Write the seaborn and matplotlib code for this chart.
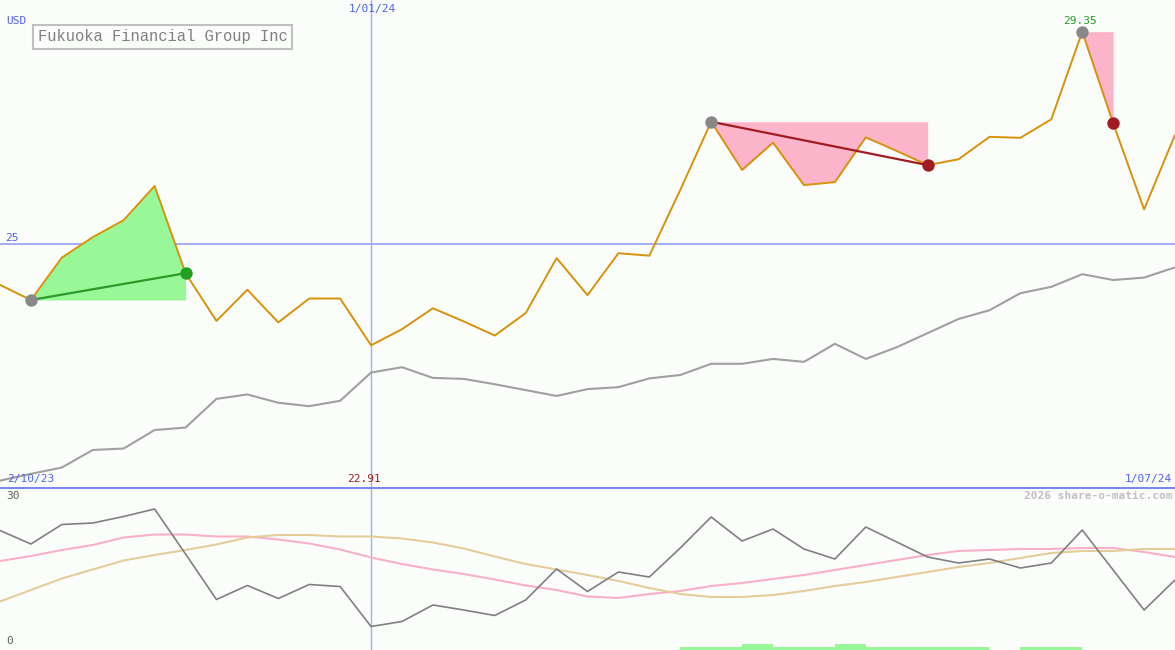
import numpy as np
import pandas as pd
import matplotlib
matplotlib.use("Agg")
import matplotlib.pyplot as plt
import seaborn as sns

# weekly closes, Fukuoka Financial Group (USD)
weeks = list(range(39))
price = [24.15, 23.84, 24.71, 25.13, 25.48, 26.18, 24.39, 23.41, 24.05, 23.38,
         23.87, 23.87, 22.91, 23.24, 23.67, 23.40, 23.11, 23.57, 24.70, 23.94,
         24.80, 24.75, 26.10, 27.50, 26.51, 27.07, 26.20, 26.26, 27.18, 26.90,
         26.61, 26.73, 27.19, 27.17, 27.55, 29.35, 27.47, 25.70, 27.23]
avg_line = [20.13, 20.27, 20.40, 20.76, 20.79, 21.17, 21.22, 21.81, 21.90, 21.73,
            21.66, 21.77, 22.35, 22.46, 22.24, 22.22, 22.11, 21.99, 21.87, 22.01,
            22.05, 22.23, 22.30, 22.53, 22.53, 22.63, 22.57, 22.94, 22.63, 22.87,
            23.16, 23.45, 23.63, 23.98, 24.11, 24.37, 24.25, 24.30, 24.51]

# lower panel indicator lines
osc = [22.9, 20.2, 24.1, 24.4, 25.7, 27.2, 18.2, 9.1, 11.9, 9.3,
       12.1, 11.7, 3.7, 4.7, 8.0, 7.0, 5.9, 9.0, 15.2, 10.7,
       14.6, 13.6, 19.4, 25.6, 20.8, 23.2, 19.2, 17.2, 23.6, 20.6,
       17.6, 16.4, 17.2, 15.4, 16.4, 23.0, 15.0, 7.0, 13.0]
avg_fast = [16.8, 17.8, 19.0, 20.0, 21.5, 22.1, 22.1, 21.7, 21.7, 21.1,
            20.3, 19.1, 17.5, 16.2, 15.1, 14.2, 13.1, 11.9, 11.0, 9.7,
            9.4, 10.2, 10.8, 11.8, 12.4, 13.2, 14.0, 15.0, 16.0, 17.0,
            18.0, 18.8, 19.0, 19.2, 19.2, 19.4, 19.4, 18.6, 17.6]
avg_slow = [8.7, 11.0, 13.3, 15.1, 16.9, 18.0, 19.0, 20.1, 21.5, 22.0,
            22.0, 21.7, 21.7, 21.3, 20.5, 19.3, 17.7, 16.2, 15.1, 14.0,
            12.8, 11.4, 10.2, 9.6, 9.6, 10.0, 10.8, 11.8, 12.6, 13.6,
            14.6, 15.6, 16.4, 17.4, 18.4, 18.8, 18.8, 19.2, 19.2]
# buy signal strength per week (0 = none)
signal = [0] * 22 + [1, 1, 2, 1, 1, 2, 1, 1, 1, 1, 0, 1, 1, 0, 0, 0, 0]

bg = "#fbfdfb"
sns.set_style("white", {"axes.facecolor": bg, "figure.facecolor": bg})
plt.rcParams["font.family"] = ["DejaVu Sans Mono"]

fig = plt.figure(figsize=(11.75, 6.5), dpi=100)
ax = fig.add_axes([0, 163 / 650, 1, 487 / 650])
ax2 = fig.add_axes([0, 0, 1, 163 / 650])
for a in (ax, ax2):
    a.set_xlim(0, 38)
    a.set_axis_off()
ax.set_ylim(20, 30)
ax2.set_ylim(-1, 31.6)

# grid lines
ax.axhline(25, color="#a4acf4", lw=1.4, zorder=1)
ax.axvline(12, color="#a4acf4", lw=1, zorder=1)
ax2.axvline(12, color="#a4acf4", lw=1, zorder=1)
ax2.axhline(31.6, color="#7888ec", lw=2.2, zorder=1)

# signal fills
ax.fill_between(weeks[1:7], price[1:7], price[1], color="#98f898", lw=0, zorder=2)
ax.fill_between(weeks[23:31], price[23:31], price[23], color="#fbb4ca", lw=0, zorder=2)
ax.fill_between(weeks[35:37], price[35:37], price[35], color="#fbb4ca", lw=0, zorder=2)

sns.lineplot(x=weeks, y=avg_line, ax=ax, color="#a0a0a0", lw=1.5, zorder=3)
sns.lineplot(x=weeks, y=price, ax=ax, color="#d8920a", lw=1.4, zorder=4)

ax.plot([weeks[1], weeks[6]], [price[1], price[6]], color="#2a9a2a", lw=1.6, zorder=5)
ax.plot([weeks[23], weeks[30]], [price[23], price[30]], color="#a01c22", lw=1.6, zorder=5)
ax.scatter([weeks[1], weeks[23], weeks[35]], [price[1], price[23], price[35]],
           s=80, color="#888888", zorder=6, lw=0)
ax.scatter([weeks[6]], [price[6]], s=80, color="#22a022", zorder=6, lw=0)
ax.scatter([weeks[30], weeks[36]], [price[30], price[36]], s=80, color="#a01c22", zorder=6, lw=0)

# lower panel
sns.lineplot(x=weeks, y=avg_fast, ax=ax2, color="#f8b0c8", lw=1.5, zorder=3)
sns.lineplot(x=weeks, y=avg_slow, ax=ax2, color="#e4cc9c", lw=1.5, zorder=3)
sns.lineplot(x=weeks, y=osc, ax=ax2, color="#808080", lw=1.2, zorder=4)
sig = np.array(signal)
ax2.bar(np.array(weeks)[sig > 0], sig[sig > 0] * 0.6, bottom=-1, width=1,
        align="edge", color="#98f898", lw=0, zorder=2)

# text
def px(x, y):
    return x / 1175, 1 - y / 650

small = dict(fontsize=8)
fig.text(*px(6, 21), "USD", color="#5060f0", va="center", **small)
fig.text(*px(5, 238), "25", color="#5060f0", va="center", **small)
fig.text(*px(372, 9), "1/01/24", color="#5060f0", ha="center", va="center", **small)
fig.text(*px(7, 479), "2/10/23", color="#5060f0", va="center", **small)
fig.text(*px(1172, 479), "1/07/24", color="#5060f0", ha="right", va="center", **small)
fig.text(*px(381, 479), "22.91", color="#a01c22", ha="right", va="center", **small)
fig.text(*px(1080, 21), "29.35", color="#22a022", ha="center", va="center", **small)
fig.text(*px(1172, 496), "2026 share-o-matic.com", color="#c0c0c0", ha="right",
         va="center", fontsize=8, fontweight="bold")
fig.text(*px(6, 496), "30", color="#606060", va="center", **small)
fig.text(*px(6, 641), "0", color="#606060", va="center", **small)
fig.text(*px(38, 37), "Fukuoka Financial Group Inc", color="#808080", va="center",
         fontsize=11.2, family=["Liberation Mono", "DejaVu Sans Mono"],
         bbox=dict(boxstyle="square,pad=0.3", fc=bg, ec="#c0c0c0", lw=1.5))

fig.savefig("out.png", dpi=100, facecolor=bg)
